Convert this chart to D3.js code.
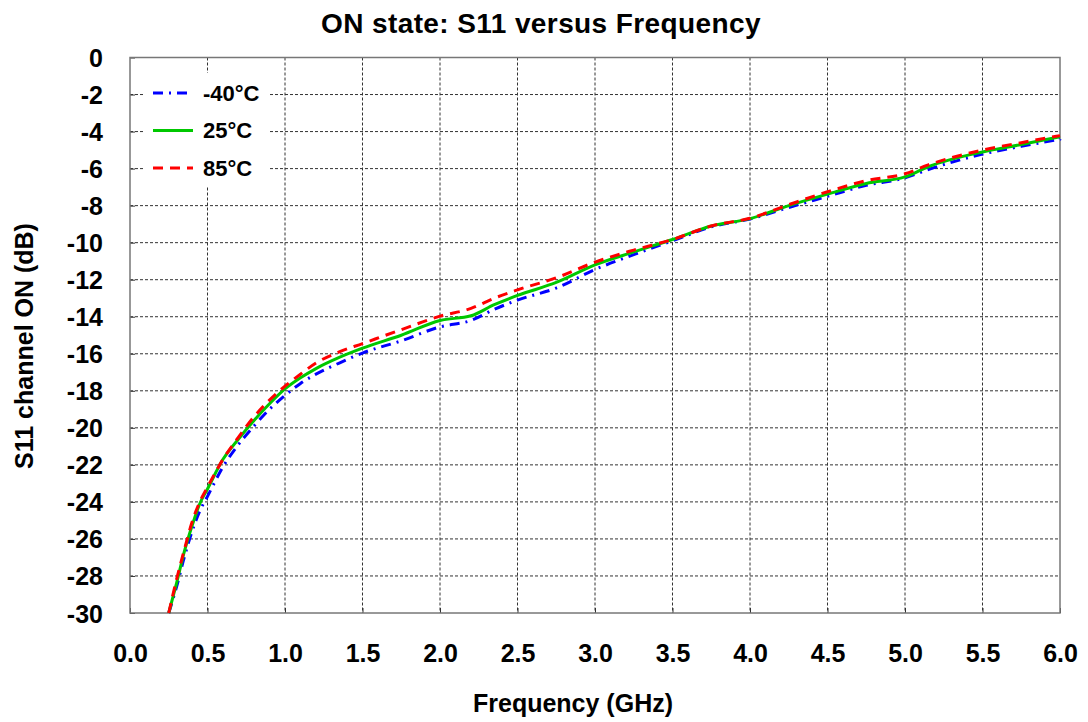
<!DOCTYPE html>
<html>
<head>
<meta charset="utf-8">
<script src="https://cdn.jsdelivr.net/npm/d3@7"></script>
<style>
  body { margin: 0; background: #fff; }
  svg { font-family: Arial, "Liberation Sans", sans-serif; font-weight: bold; }
</style>
</head>
<body>
<svg id="chart" width="1088" height="722"></svg>
<script>
// 주파수 (GHz)
const freq = [0.25, 0.3, 0.35, 0.4, 0.45, 0.5, 0.6, 0.7, 0.8, 0.9, 1.0, 1.1, 1.2, 1.35, 1.5, 1.75, 2.0, 2.2, 2.35, 2.5, 2.75, 3.0, 3.25, 3.5, 3.75, 4.0, 4.25, 4.5, 4.75, 5.0, 5.15, 5.5, 5.75, 6.0];
// S11 (dB) 온도별
const s11_m40 = [-30, -28.6, -27.0, -25.6, -24.5, -23.7, -22.1, -20.9, -19.9, -19.0, -18.25, -17.6, -17.1, -16.5, -15.96, -15.3, -14.55, -14.2, -13.6, -13.1, -12.45, -11.45, -10.65, -9.9, -9.15, -8.72, -8.1, -7.5, -6.9, -6.5, -6.05, -5.22, -4.8, -4.42];
const s11_25 = [-30, -28.4, -26.7, -25.3, -24.1, -23.3, -21.7, -20.6, -19.6, -18.7, -17.9, -17.3, -16.8, -16.2, -15.7, -15.0, -14.2, -13.95, -13.35, -12.85, -12.15, -11.2, -10.5, -9.83, -9.1, -8.7, -8.0, -7.38, -6.8, -6.45, -5.9, -5.1, -4.7, -4.28];
const s11_85 = [-30, -28.2, -26.6, -25.1, -24.0, -23.2, -21.7, -20.5, -19.4, -18.5, -17.75, -17.1, -16.5, -15.9, -15.45, -14.7, -13.97, -13.55, -13.0, -12.55, -11.9, -11.05, -10.4, -9.83, -9.1, -8.68, -7.95, -7.25, -6.65, -6.28, -5.8, -5.0, -4.6, -4.22];

const xTicks = d3.range(0, 6.01, 0.5);
const yTicks = d3.range(0, -30.01, -2);

const series = [
  { name: "-40°C", values: s11_m40, color: "#0000ff", dash: "10,6,2,6" },
  { name: "25°C", values: s11_25, color: "#00c800", dash: null },
  { name: "85°C", values: s11_85, color: "#ff0000", dash: "10,7" },
];

const svg = d3.select("#chart");
const mLeft = 130, mRight = 1060, mTop = 57.5, mBottom = 613;

const x = d3.scaleLinear().domain([0, 6]).range([mLeft, mRight]);
const y = d3.scaleLinear().domain([-30, 0]).range([mBottom, mTop]);

// 그리드
const grid = svg.append("g").attr("stroke", "#333").attr("stroke-width", 1).attr("stroke-dasharray", "3,2");
grid.selectAll("line.v").data(xTicks.slice(1, -1)).join("line")
  .attr("x1", d => x(d)).attr("x2", d => x(d)).attr("y1", mTop).attr("y2", mBottom);
grid.selectAll("line.h").data(yTicks.slice(1, -1)).join("line")
  .attr("x1", mLeft).attr("x2", mRight).attr("y1", d => y(d)).attr("y2", d => y(d));

// 축 (안쪽 눈금)
const xAxis = svg.append("g").attr("transform", `translate(0,${mBottom})`)
  .call(d3.axisBottom(x).tickValues(xTicks).tickSize(-5).tickFormat(d3.format(".1f")));
const yAxis = svg.append("g").attr("transform", `translate(${mLeft},0)`)
  .call(d3.axisLeft(y).tickValues(yTicks).tickSize(-5).tickFormat(d => String(d))); // 하이픈 마이너스
[xAxis, yAxis].forEach(a => {
  a.select(".domain").remove();
  a.selectAll(".tick line").attr("stroke", "#333");
  a.selectAll("text").attr("fill", "#000").attr("font-size", 25).attr("font-family", "Arial, 'Liberation Sans', sans-serif").attr("font-weight", "bold");
});
xAxis.selectAll("text").attr("dy", null).attr("y", 49);
yAxis.selectAll("text").attr("x", -27).attr("dy", "0.36em");

// 테두리
svg.append("rect").attr("x", mLeft).attr("y", mTop).attr("width", mRight - mLeft).attr("height", mBottom - mTop)
  .attr("fill", "none").attr("stroke", "#777").attr("stroke-width", 1.5);

// 범례 배경
svg.append("rect").attr("x", 143).attr("y", 73).attr("width", 127).attr("height", 114).attr("fill", "#fff");

// 곡선
const line = d3.line().x(d => x(d[0])).y(d => y(d[1])).curve(d3.curveMonotoneX);
svg.append("g").selectAll("path").data(series).join("path")
  .attr("d", s => line(freq.map((f, i) => [f, s.values[i]])))
  .attr("fill", "none")
  .attr("stroke", s => s.color)
  .attr("stroke-width", 3)
  .attr("stroke-dasharray", s => s.dash);

// 범례
const leg = svg.append("g").selectAll("g").data(series).join("g")
  .attr("transform", (d, i) => `translate(153,${93 + i * 37.5})`);
leg.append("line").attr("x1", 0).attr("x2", 40).attr("y1", 0).attr("y2", 0)
  .attr("stroke", d => d.color).attr("stroke-width", 3).attr("stroke-dasharray", d => d.dash);
leg.append("text").attr("x", 50).attr("dy", "0.36em").attr("font-size", 22).text(d => d.name);

// 제목
svg.append("text").attr("x", 541).attr("y", 33).attr("text-anchor", "middle").attr("font-size", 28)
  .attr("letter-spacing", 0.4)
  .text("ON state: S11 versus Frequency");
svg.append("text").attr("x", 573).attr("y", 712).attr("text-anchor", "middle").attr("font-size", 25)
  .text("Frequency (GHz)");
svg.append("text").attr("transform", "translate(33,346) rotate(-90)").attr("text-anchor", "middle").attr("font-size", 25)
  .text("S11 channel ON (dB)");
</script>
</body>
</html>
